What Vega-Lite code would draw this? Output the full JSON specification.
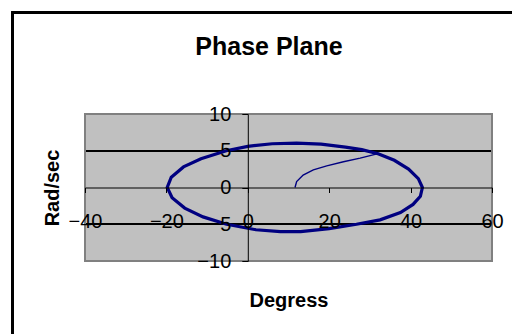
{
  "$schema": "https://vega.github.io/schema/vega-lite/v6.json",
  "width": 407,
  "height": 147,
  "autosize": {"type": "none"},
  "padding": {"left": 85, "top": 114, "right": 20, "bottom": 73},
  "background": "white",
  "config": {
    "view": {"fill": "#C0C0C0", "stroke": null},
    "font": "Liberation Sans"
  },
  "title": {"text": "Phase Plane", "fontSize": 25, "font": "Liberation Sans", "fontWeight": "bold", "frame": "group", "anchor": "middle", "baseline": "alphabetic", "offset": -68, "dx": -19.5, "color": "black"},
  "resolve": {"axis": {"x": "independent", "y": "independent"}},
  "data": {"values": [
    {"i": 0, "seg": "start", "deg": 11.6, "rad": 0.0},
    {"i": 1, "seg": "start", "deg": 12.0, "rad": 0.8},
    {"i": 2, "seg": "start", "deg": 13.6, "rad": 1.7},
    {"i": 3, "seg": "start", "deg": 16.1, "rad": 2.4},
    {"i": 4, "seg": "start", "deg": 19.4, "rad": 2.95},
    {"i": 5, "seg": "start", "deg": 23.5, "rad": 3.5},
    {"i": 6, "seg": "start", "deg": 27.6, "rad": 4.0},
    {"i": 7, "seg": "start", "deg": 32.0, "rad": 4.6},
    {"i": 10, "seg": "orbit", "deg": 32.0, "rad": 4.6},
    {"i": 11, "seg": "orbit", "deg": 36.0, "rad": 3.7},
    {"i": 12, "seg": "orbit", "deg": 39.5, "rad": 2.5},
    {"i": 13, "seg": "orbit", "deg": 41.9, "rad": 1.2},
    {"i": 14, "seg": "orbit", "deg": 42.9, "rad": 0.0},
    {"i": 15, "seg": "orbit", "deg": 42.4, "rad": -1.2},
    {"i": 16, "seg": "orbit", "deg": 40.6, "rad": -2.3},
    {"i": 17, "seg": "orbit", "deg": 37.5, "rad": -3.4},
    {"i": 18, "seg": "orbit", "deg": 32.5, "rad": -4.4},
    {"i": 19, "seg": "orbit", "deg": 26.7, "rad": -5.0},
    {"i": 20, "seg": "orbit", "deg": 20.0, "rad": -5.6},
    {"i": 21, "seg": "orbit", "deg": 13.0, "rad": -6.0},
    {"i": 22, "seg": "orbit", "deg": 8.0, "rad": -6.0},
    {"i": 23, "seg": "orbit", "deg": 2.0, "rad": -5.75},
    {"i": 24, "seg": "orbit", "deg": -5.2, "rad": -5.0},
    {"i": 25, "seg": "orbit", "deg": -11.0, "rad": -4.0},
    {"i": 26, "seg": "orbit", "deg": -15.5, "rad": -2.8},
    {"i": 27, "seg": "orbit", "deg": -18.6, "rad": -1.4},
    {"i": 28, "seg": "orbit", "deg": -19.8, "rad": 0.0},
    {"i": 29, "seg": "orbit", "deg": -18.8, "rad": 1.4},
    {"i": 30, "seg": "orbit", "deg": -15.8, "rad": 2.8},
    {"i": 31, "seg": "orbit", "deg": -11.5, "rad": 3.9},
    {"i": 32, "seg": "orbit", "deg": -5.3, "rad": 5.0},
    {"i": 33, "seg": "orbit", "deg": 0.0, "rad": 5.6},
    {"i": 34, "seg": "orbit", "deg": 6.0, "rad": 5.95},
    {"i": 35, "seg": "orbit", "deg": 12.0, "rad": 6.05},
    {"i": 36, "seg": "orbit", "deg": 18.0, "rad": 5.9},
    {"i": 37, "seg": "orbit", "deg": 24.0, "rad": 5.5},
    {"i": 38, "seg": "orbit", "deg": 28.0, "rad": 5.15},
    {"i": 39, "seg": "orbit", "deg": 32.0, "rad": 4.6},
    {"i": 40, "seg": "orbit", "deg": 36.0, "rad": 3.7}
  ]},
  "layer": [
    {
      "mark": {"type": "rule", "color": "black", "strokeWidth": 1},
      "encoding": {"y": {"datum": 5, "type": "quantitative", "axis": null}}
    },
    {
      "mark": {"type": "rule", "color": "black", "strokeWidth": 1},
      "encoding": {"y": {"datum": -5, "type": "quantitative", "axis": null}}
    },
    {
      "mark": {"type": "rect", "filled": false, "fill": null, "stroke": "#808080", "strokeWidth": 2, "clip": false},
      "encoding": {
        "x": {"datum": -40, "type": "quantitative", "axis": null},
        "x2": {"datum": 60},
        "y": {"datum": 10, "type": "quantitative", "axis": null},
        "y2": {"datum": -10}
      }
    },
    {
      "mark": {"type": "line", "color": "#000080", "strokeWidth": 3.2, "clip": false},
      "transform": [{"filter": "datum.seg === 'orbit'"}],
      "encoding": {
        "x": {"field": "deg", "type": "quantitative",
          "scale": {"domain": [-40, 60], "nice": false, "zero": false},
          "axis": {"title": "Degress", "values": [-40, -20, 0, 20, 40, 60], "offset": -73.5, "grid": false, "zindex": 1,
            "domainColor": "black", "domainWidth": 1, "tickColor": "black", "tickSize": 5, "labelPadding": 19,
            "labelFontSize": 20, "labelFont": "Liberation Sans", "labelColor": "black", "labelFlush": false, "labelOverlap": false,
            "titleFont": "Liberation Sans", "titleFontSize": 20, "titleFontWeight": "bold", "titleColor": "black",
            "titleY": 118.5, "titleBaseline": "alphabetic"}},
        "y": {"field": "rad", "type": "quantitative",
          "scale": {"domain": [-10, 10], "nice": false, "zero": false},
          "axis": {"title": "Rad/sec", "values": [-10, -5, 0, 5, 10], "offset": -162.8, "grid": false, "zindex": 1,
            "domainColor": "black", "domainWidth": 1, "tickColor": "black", "tickSize": 6, "labelPadding": 11,
            "labelFontSize": 20, "labelFont": "Liberation Sans", "labelColor": "black", "labelFlush": false, "labelOverlap": false,
            "titleFont": "Liberation Sans", "titleFontSize": 20, "titleFontWeight": "bold", "titleColor": "black",
            "titleX": -189.8, "titleY": 73.5, "titleAngle": 270, "titleBaseline": "alphabetic", "titleAlign": "center"}},
        "order": {"field": "i", "type": "quantitative"}
      }
    },
    {
      "mark": {"type": "line", "color": "#000080", "strokeWidth": 1.4, "clip": false},
      "transform": [{"filter": "datum.seg === 'start'"}],
      "encoding": {
        "x": {"field": "deg", "type": "quantitative", "axis": null},
        "y": {"field": "rad", "type": "quantitative", "axis": null},
        "order": {"field": "i", "type": "quantitative"}
      }
    },
    {
      "mark": {"type": "rect", "filled": false, "fill": null, "stroke": "black", "strokeWidth": 2, "clip": false},
      "encoding": {
        "x": {"datum": -57.76, "type": "quantitative", "axis": null},
        "x2": {"datum": 75},
        "y": {"datum": 23.78, "type": "quantitative", "axis": null},
        "y2": {"datum": -25}
      }
    }
  ]
}
